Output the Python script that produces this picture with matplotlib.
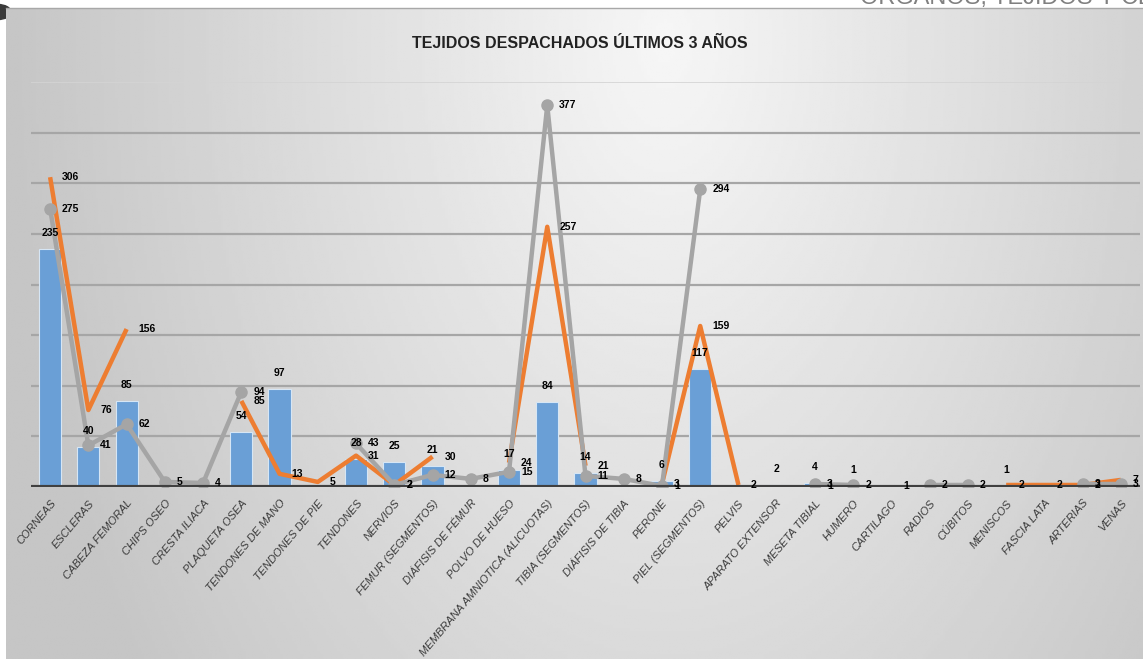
import matplotlib.pyplot as plt
import numpy as np

nan = np.nan

categories = ['CORNEAS', 'ESCLERAS', 'CABEZA FEMORAL', 'CHIPS OSEO', 'CRESTA ILIACA',
              'PLAQUETA OSEA', 'TENDONES DE MANO', 'TENDONES DE PIE', 'TENDONES', 'NERVIOS',
              'FEMUR (SEGMENTOS)', 'DIÁFISIS DE FÉMUR', 'POLVO DE HUESO',
              'MEMBRANA AMNIOTICA (ALICUOTAS)', 'TIBIA (SEGMENTOS)', 'DIÁFISIS DE TIBIA',
              'PERONE', 'PIEL (SEGMENTOS)', 'PELVIS', 'APARATO EXTENSOR', 'MESETA TIBIAL',
              'HUMERO', 'CARTILAGO', 'RADIOS', 'CÚBITOS', 'MENISCOS', 'FASCIA LATA',
              'ARTERIAS', 'VENAS']

# blue bars
bars = [235, 40, 85, nan, nan, 54, 97, nan, 28, 25, 21, nan, 17, 84, 14, nan, 6, 117,
        nan, 2, 4, 1, nan, nan, nan, 1, nan, nan, nan]
# orange line
orange = [306, 76, 156, nan, nan, 85, 13, 5, 31, 2, 30, nan, 24, 257, 21, nan, 3, 159,
          2, nan, 1, nan, 1, nan, nan, 2, 2, 2, 7]
# gray line with markers
gray = [275, 41, 62, 5, 4, 94, nan, nan, 43, 2, 12, 8, 15, 377, 11, 8, 1, 294,
        nan, nan, 3, 2, nan, 2, 2, nan, nan, 3, 3]

FONT = 'Liberation Sans'
W, H = 1143, 659
fig = plt.figure(figsize=(W / 100, H / 100), dpi=100)
fig.patch.set_facecolor('white')

# dark corner circle (mostly hidden behind the panel)
fig.add_artist(plt.Circle((-2 / W, (H - 12) / H), 13 / W, transform=fig.transFigure,
                          color='#3a3a3a', clip_on=False, zorder=-5))

# gradient background panel
bg = fig.add_axes([6 / W, 0, 1 - 6 / W, (H - 8) / H])
yy, xx = np.mgrid[0:1:200j, 0:1:400j]
d = np.sqrt((xx - 0.58) ** 2 + (0.35 * (yy - 0.05)) ** 2)
shade = np.clip(0.965 - 0.33 * d, 0.775, 0.97)
bg.imshow(shade, cmap='gray', vmin=0, vmax=1, aspect='auto', extent=[0, 1, 1, 0])
bg.axis('off')

# top strip
fig.add_artist(plt.Line2D([6 / W, 1], [(H - 7.5) / H, (H - 7.5) / H], color='#a8a8a8', lw=1))
fig.text(860 / W, (H + 3) / H, 'ÓRGANOS, TEJIDOS Y CÉLULAS', fontsize=17, color='#808080',
         ha='left', va='center', family=FONT)

ax = fig.add_axes([31 / W, (H - 487) / H, (1140 - 31) / W, (487 - 82) / H])
ax.patch.set_alpha(0)
x = np.arange(len(categories))

ax.set_ylim(0, 400)
ax.set_xlim(-0.5, len(categories) - 0.5)
for g in range(50, 351, 50):
    ax.axhline(g, color='#a6a6a6', lw=1.6, zorder=1)
ax.axhline(400, color='#d4d4d4', lw=1.2, zorder=1)

ax.bar(x, bars, width=0.58, color='#6a9fd6', edgecolor='#d6e6f5', lw=0.8, zorder=2)
ax.plot(x, orange, color='#ed7d31', lw=3.2, zorder=3, solid_capstyle='butt')
ax.plot(x, gray, color='#a5a5a5', lw=3.2, marker='o', ms=8, zorder=4)
ax.axhline(0, color='#404040', lw=3, zorder=5)

lab = dict(fontsize=7.5, family=FONT, fontweight='bold', color='black',
           textcoords='offset pixels', zorder=6)
for i, v in enumerate(bars):
    if not np.isnan(v):
        ax.annotate(f'{v:g}', (i, v), xytext=(0, 11), ha='center', va='bottom', **lab)
for series in (orange, gray):
    for i, v in enumerate(series):
        if not np.isnan(v):
            ax.annotate(f'{v:g}', (i, v), xytext=(12, 0), ha='left', va='center', **lab)

ax.set_xticks(x)
ax.set_xticklabels(categories, rotation=50, ha='right', rotation_mode='anchor',
                   fontsize=8, style='italic', color='#3a3a3a', family=FONT)
ax.tick_params(axis='x', length=0, pad=8)
ax.set_yticks([])
for s in ax.spines.values():
    s.set_visible(False)

fig.text(580 / W, (H - 43) / H, 'TEJIDOS DESPACHADOS ÚLTIMOS 3 AÑOS', fontsize=11.5,
         fontweight='bold', family=FONT, color='#222222', ha='center', va='center')

fig.savefig('out.png', dpi=100)
